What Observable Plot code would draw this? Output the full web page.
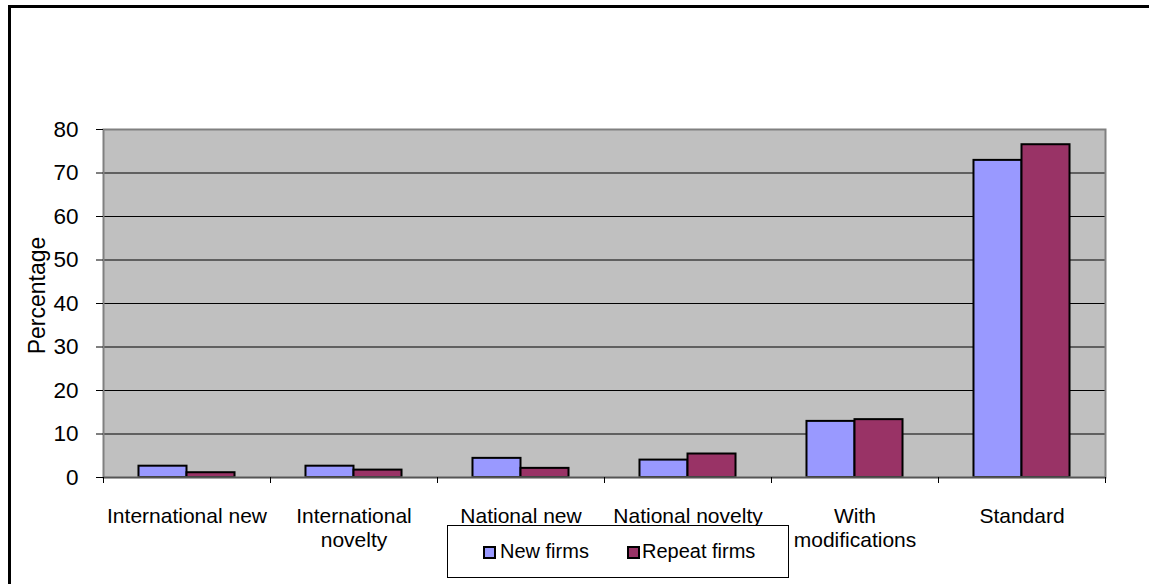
<!DOCTYPE html>
<html>
<head>
<meta charset="utf-8">
<script src="https://cdn.jsdelivr.net/npm/d3@7"></script>
<script src="https://cdn.jsdelivr.net/npm/@observablehq/plot@0.6"></script>
<style>
  html, body { margin: 0; padding: 0; background: #fff; overflow: hidden; }
  body { width: 1149px; height: 584px; position: relative; font-family: "Liberation Sans", Arial, sans-serif; }
  #frame { position: absolute; left: 8px; top: 5px; width: 1300px; height: 800px; border: 3px solid #000; }
  #chart { position: absolute; left: 0; top: 0; }
  #legend { position: absolute; left: 447px; top: 525px; width: 342px; height: 53px; box-sizing: border-box;
            border: 1px solid #000; background: #fff; font-size: 20px; color: #000; }
  .sw { position: absolute; top: 20px; width: 13px; height: 13px; box-sizing: border-box; border: 2px solid #000; }
  .lt { position: absolute; top: 15px; line-height: 20px; white-space: nowrap; }
</style>
</head>
<body>
<div id="frame"></div>
<div id="chart"></div>
<div id="legend"></div>
<script>
// ---- data ----
const categories = ["International new", "International\nnovelty", "National new", "National novelty", "With\nmodifications", "Standard"];
const seriesNames = ["New firms", "Repeat firms"];
const newFirms = [2.6, 2.6, 4.4, 4.0, 12.9, 72.9];
const repeatFirms = [1.1, 1.7, 2.1, 5.4, 13.3, 76.5];
const seriesColors = ["#9999FF", "#993366"];
const yTicks = [0, 10, 20, 30, 40, 50, 60, 70, 80];
const gridTicks = [10, 20, 30, 40, 50, 60, 70];
const yLabel = "Percentage";

const rows = [];
categories.forEach((c, i) => {
  rows.push({category: c, series: seriesNames[0], value: newFirms[i]});
  rows.push({category: c, series: seriesNames[1], value: repeatFirms[i]});
});

const W = 1149, H = 584, mL = 103, mR = 44, mT = 129, mB = 107;
const bw = (W - mL - mR) / categories.length;
const gap = bw * 0.2125; // Excel gap width 150%
const barW = (bw - 2 * gap) / 2;

const chart = Plot.plot({
  width: W,
  height: H,
  marginLeft: mL,
  marginRight: mR,
  marginTop: mT,
  marginBottom: mB,
  style: {fontFamily: "'Liberation Sans', Arial, sans-serif", fontSize: "21px", color: "#000", background: "transparent"},
  x: {domain: categories, padding: 0, axis: null},
  y: {domain: [0, 80], axis: null},
  color: {domain: seriesNames, range: seriesColors},
  marks: [
    Plot.frame({fill: "#C0C0C0", stroke: null}),
    Plot.ruleY(gridTicks, {stroke: "#000", strokeWidth: 1}),
    Plot.barY(rows.filter(d => d.series === seriesNames[0]), {
      x: "category", y: "value", fill: "series", stroke: "#000", strokeWidth: 2,
      insetLeft: gap, insetRight: gap + barW
    }),
    Plot.barY(rows.filter(d => d.series === seriesNames[1]), {
      x: "category", y: "value", fill: "series", stroke: "#000", strokeWidth: 2,
      insetLeft: gap + barW, insetRight: gap
    }),
    Plot.frame({stroke: "#808080", strokeWidth: 2}),
    Plot.ruleY([0], {stroke: "#555", strokeWidth: 1.5}),
    // category boundary ticks
    Plot.ruleX(categories, {x: d => d, y1: 0, y2: 0, insetBottom: -6, dx: -bw / 2, stroke: "#000"}),
    Plot.ruleX(categories.slice(-1), {x: d => d, y1: 0, y2: 0, insetBottom: -6, dx: bw / 2, stroke: "#000"}),
    Plot.axisY({ticks: yTicks, tickSize: 7, tickPadding: 18, label: null, fontSize: 22.5, stroke: "#000"}),
    Plot.axisX({tickSize: 0, tickPadding: 28, fontSize: 21, lineHeight: 1.15, label: null}),
    Plot.text([yLabel], {frameAnchor: "left", textAnchor: "middle", rotate: -90, dx: -66, dy: -8, fontSize: 23, fill: "#000"})
  ]
});
document.getElementById("chart").appendChild(chart);

// legend
const legend = document.getElementById("legend");
const swLeft = [35, 179];
const txLeft = [52, 194];
seriesNames.forEach((s, i) => {
  const sw = document.createElement("div");
  sw.className = "sw";
  sw.style.left = swLeft[i] + "px";
  sw.style.background = seriesColors[i];
  legend.appendChild(sw);
  const t = document.createElement("div");
  t.className = "lt";
  t.style.left = txLeft[i] + "px";
  t.textContent = s;
  legend.appendChild(t);
});
</script>
</body>
</html>
